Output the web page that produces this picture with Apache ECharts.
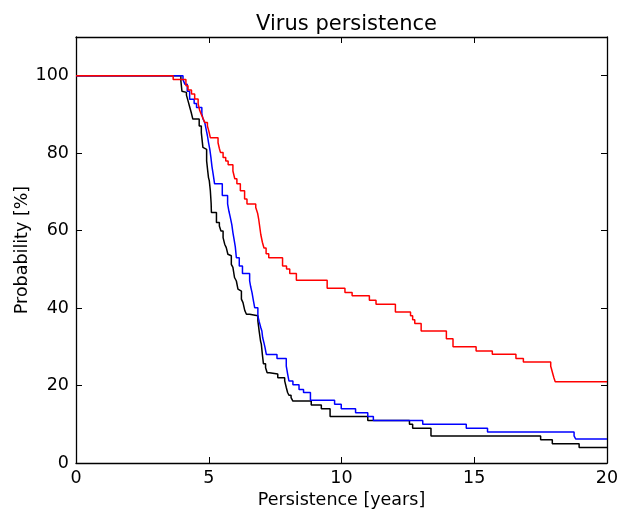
<!DOCTYPE html>
<html>
<head>
<meta charset="utf-8">
<script src="https://cdn.jsdelivr.net/npm/echarts@6/dist/echarts.min.js"></script>
<style>
  html, body { margin: 0; padding: 0; background: #fff; }
  #chart { width: 620px; height: 509px; }
</style>
</head>
<body>
<div id="chart"></div>
<script>
// step curves, value holds from each time until the next one
var redTimes = [0, 3.66, 4.14, 4.22, 4.35, 4.47, 4.6, 4.66, 4.72, 4.79, 4.85, 4.95, 5.01, 5.06, 5.35, 5.4, 5.44, 5.54, 5.64, 5.73, 5.91, 5.98, 6.06, 6.19, 6.35, 6.44, 6.77, 6.84, 6.88, 6.92, 6.96, 7.02, 7.08, 7.16, 7.26, 7.78, 7.93, 8.05, 8.3, 9.46, 10.13, 10.4, 11.05, 11.3, 12.03, 12.6, 12.68, 12.76, 13.0, 13.95, 14.2, 15.07, 15.68, 16.57, 16.85, 17.88, 17.92, 17.96, 18.0, 18.05, 20];
var redValues = [100, 99, 97.4, 96.3, 95.3, 94, 92.8, 91, 90, 88.9, 87.9, 87, 85.5, 84, 82.7, 81.2, 80.2, 78.9, 78, 77, 75.4, 73.4, 72.1, 70.3, 68.2, 66.9, 66, 64.5, 63, 61, 59, 57, 55.5, 54, 53, 50.9, 50.1, 48.9, 47.2, 45.1, 44, 43.2, 42, 41, 39, 38, 37, 36, 34.1, 32.1, 30, 28.9, 28.1, 27, 26.1, 25, 24, 23, 22, 21, 21];

var blueTimes = [0, 4.03, 4.1, 4.19, 4.28, 4.45, 4.54, 4.74, 4.78, 4.85, 4.9, 4.95, 4.99, 5.04, 5.08, 5.12, 5.17, 5.22, 5.51, 5.71, 5.76, 5.81, 5.87, 5.91, 5.96, 6.0, 6.04, 6.15, 6.27, 6.54, 6.58, 6.63, 6.68, 6.73, 6.85, 6.9, 6.96, 7.0, 7.03, 7.08, 7.12, 7.17, 7.57, 7.92, 7.97, 8.02, 8.17, 8.4, 8.57, 8.83, 9.74, 9.99, 10.53, 10.99, 11.2, 13.06, 14.7, 15.5, 18.76, 18.82, 20];
var blueValues = [100, 99, 97.8, 96, 93.9, 92.8, 91.8, 90.2, 88.9, 87.9, 86.2, 84.5, 82.8, 81, 79, 76.6, 74.4, 72.1, 69.1, 66.9, 65, 63.5, 61.5, 59.5, 57.5, 55.8, 53, 50.9, 48.9, 47, 45.5, 44, 42, 40.1, 38, 36.5, 35, 34.1, 32.4, 31, 29.8, 28, 27, 25, 23, 21.2, 20.2, 19, 18.2, 16.2, 15.2, 14, 13, 12, 11, 10, 9, 8, 7, 6.2, 6.2];

var blackTimes = [0, 3.95, 3.99, 4.05, 4.16, 4.22, 4.28, 4.34, 4.4, 4.64, 4.72, 4.78, 4.85, 4.92, 4.96, 4.99, 5.02, 5.06, 5.09, 5.1, 5.29, 5.4, 5.46, 5.54, 5.6, 5.66, 5.72, 5.79, 5.85, 5.91, 5.97, 6.04, 6.1, 6.17, 6.23, 6.29, 6.36, 6.42, 6.54, 6.85, 6.9, 6.95, 6.98, 7.02, 7.06, 7.14, 7.2, 7.29, 7.6, 7.86, 7.92, 7.97, 8.02, 8.1, 8.17, 8.86, 9.24, 9.57, 10.99, 12.56, 12.68, 13.37, 17.5, 17.94, 18.95, 20];
var blackValues = [100, 98.7, 96, 95.7, 95, 93.5, 92, 90.5, 88.8, 87, 85.3, 81.5, 81, 78, 75.5, 73.7, 72.9, 70.3, 67, 64.7, 62.1, 61.2, 59.9, 58.2, 56.5, 55.6, 53.9, 53.5, 51.3, 50.5, 47.9, 47, 44.9, 44.4, 42.3, 41.4, 39.3, 38.4, 38, 36.7, 34, 31.5, 30.7, 28, 25.6, 24.6, 23.3, 23, 22, 21.2, 19.5, 18.2, 17.5, 16.9, 16, 15, 14, 12, 11, 10, 9, 7, 6, 5, 4, 4];

var xTicks = [0, 5, 10, 15, 20];
var yTicks = [0, 20, 40, 60, 80, 100];

function pairs(xs, ys) {
  return xs.map(function (x, i) { return [x, ys[i]]; });
}

var font = 'DejaVu Sans';
var axisCommon = {
  type: 'value',
  splitLine: { show: false },
  axisLine: { show: true, onZero: false, lineStyle: { color: '#000', width: 1.3 } },
  axisTick: { show: true, inside: true, length: 6, lineStyle: { color: '#000', width: 1 } }
};

function stepLine(name, color, xs, ys) {
  return {
    name: name,
    type: 'line',
    step: 'end',
    showSymbol: false,
    symbol: 'none',
    lineStyle: { color: color, width: 1.5 },
    itemStyle: { color: color },
    data: pairs(xs, ys)
  };
}

var chart = echarts.init(document.getElementById('chart'), null, { renderer: 'canvas' });
chart.setOption({
  animation: false,
  backgroundColor: '#fff',
  title: {
    text: 'Virus persistence',
    left: 341.5,
    textAlign: 'center',
    top: 9,
    textStyle: { fontFamily: font, fontSize: 21, fontWeight: 'normal', color: '#000' }
  },
  grid: { left: 76, right: 13, top: 37, bottom: 46, containLabel: false, outerBoundsMode: 'none' },
  xAxis: [
    Object.assign({}, axisCommon, {
      position: 'bottom', min: 0, max: 20, interval: 5,
      name: 'Persistence [years]', nameLocation: 'middle', nameGap: 25,
      nameTextStyle: { fontFamily: font, fontSize: 17.5, color: '#000' },
      axisLabel: { margin: 6, fontFamily: font, fontSize: 17.5, color: '#000',
        formatter: function (v) { return xTicks.indexOf(v) >= 0 ? String(v) : ''; } }
    }),
    Object.assign({}, axisCommon, {
      position: 'top', min: 0, max: 20, interval: 5,
      axisLabel: { show: false }
    })
  ],
  yAxis: [
    Object.assign({}, axisCommon, {
      position: 'left', min: 0, max: 110, interval: 20,
      name: 'Probability [%]', nameLocation: 'middle', nameGap: 45,
      nameMoveOverlap: false,
      nameTextStyle: { fontFamily: font, fontSize: 17.5, color: '#000' },
      axisLabel: { margin: 7, fontFamily: font, fontSize: 17.5, color: '#000',
        formatter: function (v) { return yTicks.indexOf(v) >= 0 ? String(v) : ''; } }
    }),
    Object.assign({}, axisCommon, {
      position: 'right', min: 0, max: 110, interval: 20,
      axisLabel: { show: false }
    })
  ],
  series: [
    stepLine('black', '#000000', blackTimes, blackValues),
    stepLine('blue', '#0000ff', blueTimes, blueValues),
    stepLine('red', '#ff0000', redTimes, redValues)
  ]
});
</script>
</body>
</html>
